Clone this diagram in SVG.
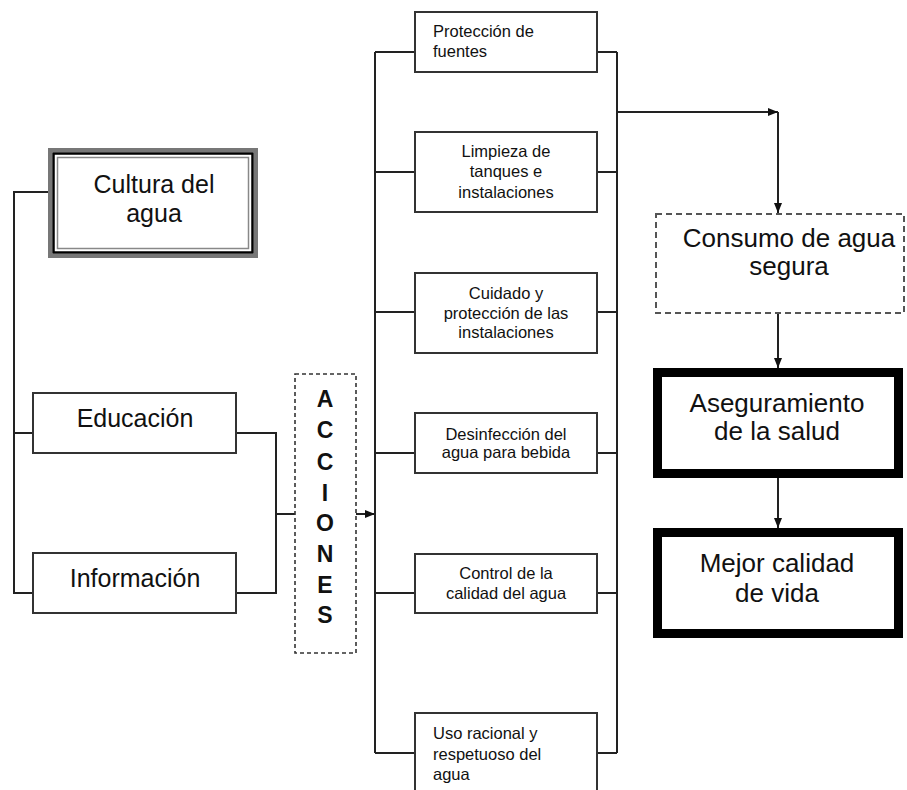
<svg xmlns="http://www.w3.org/2000/svg" width="907" height="790" viewBox="0 0 907 790">
<defs>
<marker id="ah" markerWidth="10" markerHeight="8" refX="10" refY="4" orient="auto" markerUnits="userSpaceOnUse">
<path d="M0,0 L10,4 L0,8 Z" fill="#111"/>
</marker>
<style>
.box{fill:#fff;stroke:#333;stroke-width:2}
.big{font-family:"Liberation Sans",Arial,sans-serif;font-size:25px;fill:#111;text-anchor:middle}
.sm{font-family:"Liberation Sans",Arial,sans-serif;font-size:16.5px;fill:#111;text-anchor:middle}
.sml{font-family:"Liberation Sans",Arial,sans-serif;font-size:16.5px;fill:#111}
.acc{font-family:"Liberation Sans",Arial,sans-serif;font-size:23px;font-weight:bold;fill:#111;text-anchor:middle}
.ln{fill:none;stroke:#222;stroke-width:2}
.thick{fill:#fff;stroke:#000;stroke-width:9}
</style>
</defs>
<rect width="907" height="790" fill="#fff"/>
<g id="connectors">
<polyline class="ln" points="52,192 14,192 14,593 33,593"/>
<line class="ln" x1="14" y1="433" x2="33" y2="433"/>
<polyline class="ln" points="236,433 276,433 276,593 236,593"/>
<line class="ln" x1="276" y1="514" x2="295" y2="514"/>
<line class="ln" x1="356" y1="514" x2="375" y2="514" marker-end="url(#ah)"/>
<line class="ln" x1="375" y1="52" x2="375" y2="753"/>
<line class="ln" x1="617" y1="52" x2="617" y2="753"/>
<line class="ln" x1="375" y1="52" x2="415" y2="52"/>
<line class="ln" x1="375" y1="172" x2="415" y2="172"/>
<line class="ln" x1="375" y1="312" x2="415" y2="312"/>
<line class="ln" x1="375" y1="453" x2="415" y2="453"/>
<line class="ln" x1="375" y1="593" x2="415" y2="593"/>
<line class="ln" x1="375" y1="753" x2="415" y2="753"/>
<line class="ln" x1="597" y1="52" x2="617" y2="52"/>
<line class="ln" x1="597" y1="172" x2="617" y2="172"/>
<line class="ln" x1="597" y1="312" x2="617" y2="312"/>
<line class="ln" x1="597" y1="453" x2="617" y2="453"/>
<line class="ln" x1="597" y1="593" x2="617" y2="593"/>
<line class="ln" x1="597" y1="753" x2="617" y2="753"/>
<line class="ln" x1="617" y1="112" x2="778" y2="112" marker-end="url(#ah)"/>
<line class="ln" x1="778" y1="112" x2="778" y2="213" marker-end="url(#ah)"/>
<line class="ln" x1="778" y1="313" x2="778" y2="368" marker-end="url(#ah)"/>
<line class="ln" x1="778" y1="478" x2="778" y2="528" marker-end="url(#ah)"/>
</g>
<g id="cultura">
<rect x="50" y="150" width="206" height="106" fill="#fff" stroke="#777" stroke-width="4"/>
<rect x="53.5" y="153.5" width="199" height="99" fill="none" stroke="#000" stroke-width="2.5"/>
<rect x="57.5" y="157.5" width="191" height="91" fill="none" stroke="#888" stroke-width="1.5"/>
<text class="big" x="154" y="193">Cultura del</text>
<text class="big" x="154" y="222">agua</text>
</g>
<g id="educacion">
<rect class="box" x="33" y="393" width="203" height="60"/>
<text class="big" x="135" y="427">Educación</text>
</g>
<g id="informacion">
<rect class="box" x="33" y="553" width="203" height="60"/>
<text class="big" x="135" y="587">Información</text>
</g>
<g id="acciones">
<rect x="295" y="374" width="61" height="279" fill="#fff" stroke="#333" stroke-width="1.6" stroke-dasharray="4,3"/>
<text class="acc" x="325" y="407">A</text>
<text class="acc" x="325" y="438">C</text>
<text class="acc" x="325" y="470">C</text>
<text class="acc" x="325" y="501">I</text>
<text class="acc" x="325" y="531">O</text>
<text class="acc" x="325" y="562">N</text>
<text class="acc" x="325" y="593">E</text>
<text class="acc" x="325" y="623">S</text>
</g>
<g id="proteccion">
<rect class="box" x="415" y="12" width="182" height="60"/>
<text class="sml" x="433" y="37">Protección de</text>
<text class="sml" x="433" y="57">fuentes</text>
</g>
<g id="limpieza">
<rect class="box" x="415" y="132" width="182" height="80"/>
<text class="sm" x="506" y="157">Limpieza de</text>
<text class="sm" x="506" y="177">tanques e</text>
<text class="sm" x="506" y="198">instalaciones</text>
</g>
<g id="cuidado">
<rect class="box" x="415" y="273" width="182" height="80"/>
<text class="sm" x="506" y="299">Cuidado y</text>
<text class="sm" x="506" y="319">protección de las</text>
<text class="sm" x="506" y="338">instalaciones</text>
</g>
<g id="desinfeccion">
<rect class="box" x="415" y="413" width="182" height="60"/>
<text class="sm" x="506" y="440">Desinfección del</text>
<text class="sm" x="506" y="458">agua para bebida</text>
</g>
<g id="control">
<rect class="box" x="415" y="554" width="182" height="59"/>
<text class="sm" x="506" y="579">Control de la</text>
<text class="sm" x="506" y="599">calidad del agua</text>
</g>
<g id="uso">
<rect class="box" x="415" y="713" width="182" height="90"/>
<text class="sml" x="433" y="739">Uso racional y</text>
<text class="sml" x="433" y="760">respetuoso del</text>
<text class="sml" x="433" y="780">agua</text>
</g>
<g id="consumo">
<rect x="656" y="214" width="248" height="99" fill="#fff" stroke="#555" stroke-width="2" stroke-dasharray="6,4"/>
<text class="big" x="789" y="247" style="font-size:26px">Consumo de agua</text>
<text class="big" x="789" y="275" style="font-size:26px">segura</text>
</g>
<g id="aseguramiento">
<rect class="thick" x="657.5" y="372.5" width="241" height="101"/>
<text class="big" x="777" y="412" style="font-size:26px">Aseguramiento</text>
<text class="big" x="777" y="440" style="font-size:26px">de la salud</text>
</g>
<g id="mejor">
<rect class="thick" x="657.5" y="532.5" width="241" height="101"/>
<text class="big" x="777" y="572" style="font-size:26px">Mejor calidad</text>
<text class="big" x="777" y="602" style="font-size:26px">de vida</text>
</g>
</svg>
